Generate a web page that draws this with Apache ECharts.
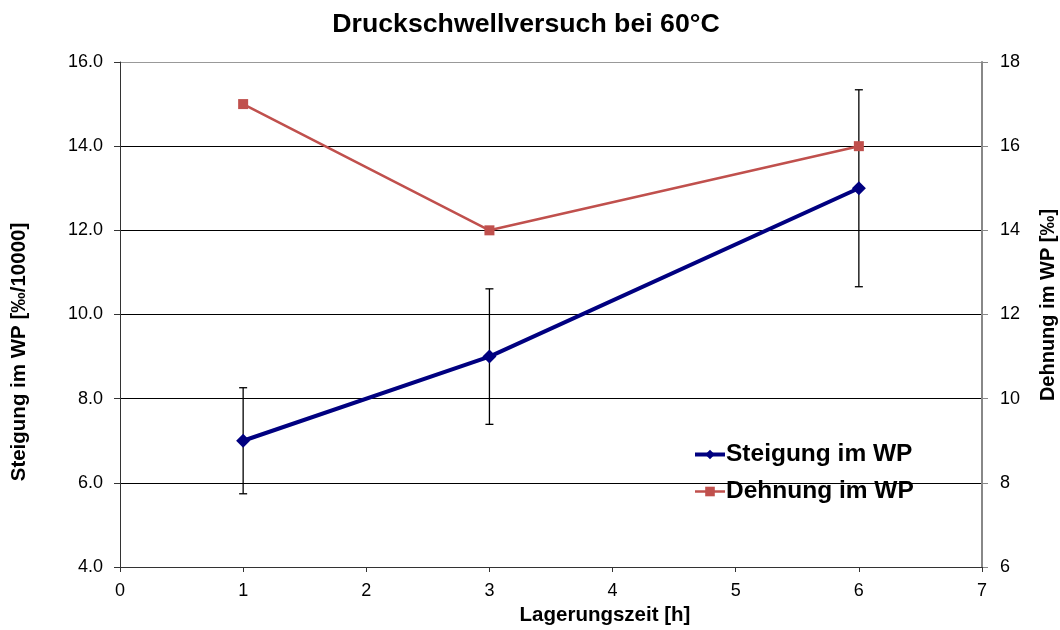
<!DOCTYPE html>
<html>
<head>
<meta charset="utf-8">
<script src="https://cdn.jsdelivr.net/npm/echarts@6/dist/echarts.min.js"></script>
<style>
  html, body { margin: 0; padding: 0; background: #fff; }
  #chart { width: 1060px; height: 630px; }
</style>
</head>
<body>
<div id="chart"></div>
<script>
// Storage time in hours
const lagerungszeit = [1, 3, 6];
// Slope at the turning point [‰/10000] with its spread
const steigung = [7.0, 9.0, 13.0];
const steigungFehler = [1.26, 1.61, 2.34];
// Strain at the turning point [‰]
const dehnung = [17, 14, 16];

const FONT = '"Liberation Sans", Arial, sans-serif';

const chart = echarts.init(document.getElementById('chart'));

const errorData = lagerungszeit.map((x, i) => [x, steigung[i] - steigungFehler[i], steigung[i] + steigungFehler[i]]);

chart.setOption({
  animation: false,
  backgroundColor: '#fff',
  title: {
    text: 'Druckschwellversuch bei 60°C',
    left: 521, top: 6, textAlign: 'center',
    textStyle: { fontFamily: FONT, fontSize: 26.7, fontWeight: 'bold', color: '#000' }
  },
  grid: { left: 120, right: 78, top: 62, bottom: 63, outerBoundsMode: 'none' },
  legend: {
    left: 688, top: 437, orient: 'vertical', itemGap: 12,
    itemWidth: 30, itemHeight: 12,
    lineStyle: { width: 'inherit' },
    textStyle: { fontFamily: FONT, fontSize: 24.5, fontWeight: 'bold', color: '#000', padding: [0, 0, 0, -4] },
    data: ['Steigung im WP', 'Dehnung im WP']
  },
  xAxis: {
    type: 'value', min: 0, max: 7, interval: 1,
    name: 'Lagerungszeit [h]', nameLocation: 'middle', nameGap: 37,
    nameTextStyle: { fontFamily: FONT, fontSize: 20.5, fontWeight: 'bold', color: '#000', padding: [0, 0, 0, 108] },
    axisLine: { lineStyle: { color: '#333', width: 1 } },
    axisTick: { show: true, length: 5, lineStyle: { color: '#333' } },
    axisLabel: { fontFamily: FONT, fontSize: 18, color: '#000', margin: 15 },
    splitLine: { show: false }
  },
  yAxis: [
    {
      type: 'value', min: 4, max: 16, interval: 2, position: 'left',
      name: 'Steigung im WP [‰/10000]', nameLocation: 'middle', nameGap: 90,
      nameTextStyle: { fontFamily: FONT, fontSize: 20.5, fontWeight: 'bold', color: '#000', padding: [0, 75, 0, 0] },
      axisLine: { show: true, lineStyle: { color: '#333', width: 1 } },
      axisTick: { show: true, length: 6, lineStyle: { color: '#333' } },
      axisLabel: { fontFamily: FONT, fontSize: 18, color: '#000', margin: 17, formatter: v => v.toFixed(1) },
      splitLine: { show: true, lineStyle: { color: ['#555', '#000', '#000', '#000', '#000', '#000', '#999'], width: 1 } }
    },
    {
      type: 'value', min: 6, max: 18, interval: 2, position: 'right',
      name: 'Dehnung im WP [‰]', nameLocation: 'middle', nameGap: 56,
      nameRotate: 90,
      nameTextStyle: { fontFamily: FONT, fontSize: 20, fontWeight: 'bold', color: '#000', padding: [0, 0, 0, 19] },
      axisLine: { show: true, lineStyle: { color: '#888', width: 2 } },
      axisTick: { show: true, length: 6, lineStyle: { color: '#888' } },
      axisLabel: { fontFamily: FONT, fontSize: 18, color: '#000', margin: 18 },
      splitLine: { show: false }
    }
  ],
  series: [
    {
      name: 'Fehler',
      type: 'custom',
      yAxisIndex: 0,
      z: 1,
      data: errorData,
      renderItem: (params, api) => {
        const x = api.value(0);
        const lo = api.coord([x, api.value(1)]);
        const hi = api.coord([x, api.value(2)]);
        const cap = 4;
        const style = { stroke: '#000', lineWidth: 1.3 };
        return {
          type: 'group',
          children: [
            { type: 'line', shape: { x1: lo[0], y1: lo[1], x2: hi[0], y2: hi[1] }, style },
            { type: 'line', shape: { x1: lo[0] - cap, y1: lo[1], x2: lo[0] + cap, y2: lo[1] }, style },
            { type: 'line', shape: { x1: hi[0] - cap, y1: hi[1], x2: hi[0] + cap, y2: hi[1] }, style }
          ]
        };
      }
    },
    {
      name: 'Steigung im WP',
      type: 'line',
      yAxisIndex: 0,
      z: 3,
      data: lagerungszeit.map((x, i) => [x, steigung[i]]),
      symbol: 'diamond', symbolSize: 14,
      lineStyle: { color: '#000080', width: 4 },
      itemStyle: { color: '#000080' }
    },
    {
      name: 'Dehnung im WP',
      type: 'line',
      yAxisIndex: 1,
      z: 2,
      data: lagerungszeit.map((x, i) => [x, dehnung[i]]),
      symbol: 'rect', symbolSize: 10,
      lineStyle: { color: '#C0504D', width: 2.5 },
      itemStyle: { color: '#C0504D' }
    }
  ]
});
</script>
</body>
</html>
